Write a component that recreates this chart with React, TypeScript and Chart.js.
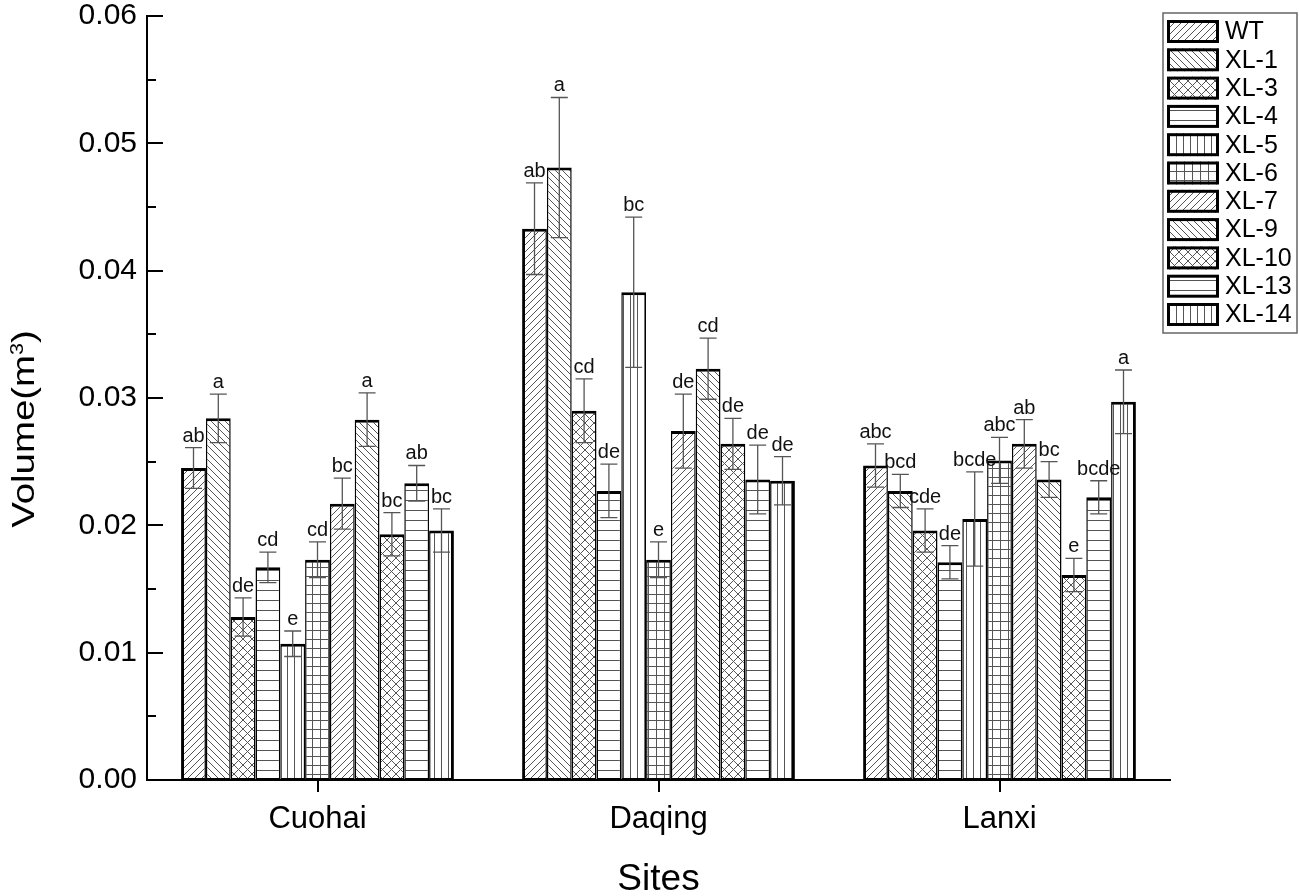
import React, { useEffect, useRef } from 'react';
import { Chart, registerables } from 'chart.js';

Chart.register(...registerables);

// ---------- data ----------
const categories = ['Cuohai', 'Daqing', 'Lanxi'];
const seriesNames = ['WT', 'XL-1', 'XL-3', 'XL-4', 'XL-5', 'XL-6', 'XL-7', 'XL-9', 'XL-10', 'XL-13', 'XL-14'];
const yTickLabels = ['0.00', '0.01', '0.02', '0.03', '0.04', '0.05', '0.06'];

const cuohaiMeans = [0.0245, 0.0284, 0.0128, 0.0167, 0.0107, 0.0173, 0.0217, 0.0283, 0.0193, 0.0233, 0.0196];
const daqingMeans = [0.0433, 0.0481, 0.0290, 0.0227, 0.0383, 0.0173, 0.0274, 0.0323, 0.0264, 0.0236, 0.0235];
const lanxiMeans = [0.0247, 0.0227, 0.0196, 0.0171, 0.0205, 0.0251, 0.0264, 0.0236, 0.0161, 0.0222, 0.0297];

const cuohaiErr = [0.0016, 0.0019, 0.0015, 0.0012, 0.0010, 0.0014, 0.0020, 0.0021, 0.0017, 0.0014, 0.0017];
const daqingErr = [0.0036, 0.0055, 0.0025, 0.0021, 0.0059, 0.0014, 0.0029, 0.0024, 0.0020, 0.0027, 0.0019];
const lanxiErr = [0.0017, 0.0013, 0.0017, 0.0013, 0.0037, 0.0018, 0.0019, 0.0014, 0.0013, 0.0013, 0.0025];

const cuohaiLetters = ['ab', 'a', 'de', 'cd', 'e', 'cd', 'bc', 'a', 'bc', 'ab', 'bc'];
const daqingLetters = ['ab', 'a', 'cd', 'de', 'bc', 'e', 'de', 'cd', 'de', 'de', 'de'];
const lanxiLetters = ['abc', 'bcd', 'cde', 'de', 'bcde', 'abc', 'ab', 'bc', 'e', 'bcde', 'a'];

const seriesPatterns = ['fwd', 'back', 'cross', 'horiz', 'vert', 'grid', 'fwd', 'back', 'cross', 'horiz', 'vert'];

// ---------- patterns ----------
function makePattern(kind: string): CanvasPattern | string {
  const c = document.createElement('canvas');
  let w = 7, h = 7;
  if (kind === 'cross') { w = 9; h = 9; }
  if (kind === 'horiz') { w = 10; h = 10; }
  if (kind === 'vert') { w = 7; h = 10; }
  if (kind === 'grid') { w = 8; h = 9; }
  c.width = w; c.height = h;
  const g = c.getContext('2d');
  if (!g) return '#fff';
  g.fillStyle = '#fff';
  g.fillRect(0, 0, w, h);
  g.strokeStyle = '#555';
  g.lineWidth = 1;
  g.beginPath();
  const fwd = () => {
    g.moveTo(0, h); g.lineTo(w, 0);
    g.moveTo(-1, 1); g.lineTo(1, -1);
    g.moveTo(w - 1, h + 1); g.lineTo(w + 1, h - 1);
  };
  const back = () => {
    g.moveTo(0, 0); g.lineTo(w, h);
    g.moveTo(w - 1, -1); g.lineTo(w + 1, 1);
    g.moveTo(-1, h - 1); g.lineTo(1, h + 1);
  };
  if (kind === 'fwd') fwd();
  if (kind === 'back') back();
  if (kind === 'cross') { fwd(); back(); }
  if (kind === 'horiz' || kind === 'grid') { g.moveTo(0, 0.5); g.lineTo(w, 0.5); }
  if (kind === 'vert' || kind === 'grid') { g.moveTo(0.5, 0); g.lineTo(0.5, h); }
  g.stroke();
  const p = g.createPattern(c, 'repeat');
  return p || '#fff';
}

// ---------- plugins ----------
const errorBarPlugin = {
  id: 'errorBarsLetters',
  afterDatasetsDraw(chart: any) {
    const ctx = chart.ctx;
    const yScale = chart.scales.y;
    ctx.save();
    chart.data.datasets.forEach((ds: any, i: number) => {
      const meta = chart.getDatasetMeta(i);
      meta.data.forEach((el: any, j: number) => {
        const v = ds.data[j];
        const e = ds.errors[j];
        const x = el.x;
        const yt = yScale.getPixelForValue(v + e);
        const yb = yScale.getPixelForValue(v - e);
        ctx.strokeStyle = '#555';
        ctx.lineWidth = 1.3;
        ctx.beginPath();
        ctx.moveTo(x, yt); ctx.lineTo(x, yb);
        ctx.moveTo(x - 8.5, yt); ctx.lineTo(x + 8.5, yt);
        ctx.moveTo(x - 8.5, yb); ctx.lineTo(x + 8.5, yb);
        ctx.stroke();
        ctx.fillStyle = '#111';
        ctx.font = '20px "Liberation Sans", Arial, sans-serif';
        ctx.textAlign = 'center';
        ctx.textBaseline = 'alphabetic';
        ctx.fillText(ds.letters[j], x, yt - 6);
      });
    });
    ctx.restore();
  },
};

const decorPlugin = {
  id: 'decor',
  afterDraw(chart: any) {
    const ctx = chart.ctx;
    const yScale = chart.scales.y;
    const area = chart.chartArea;
    ctx.save();
    // inward y ticks (major + minor)
    ctx.strokeStyle = '#000';
    ctx.lineWidth = 2;
    ctx.beginPath();
    for (let k = 0; k <= 12; k++) {
      const val = k * 0.005;
      const py = Math.round(yScale.getPixelForValue(val));
      const len = k % 2 === 0 ? 16 : 9;
      ctx.moveTo(area.left, py);
      ctx.lineTo(area.left + len, py);
    }
    ctx.stroke();

    // y axis title with superscript
    ctx.translate(22.5, 429);
    ctx.rotate(-Math.PI / 2);
    ctx.scale(1.2, 1);
    ctx.fillStyle = '#000';
    ctx.textBaseline = 'alphabetic';
    ctx.textAlign = 'left';
    const big = '32px "Liberation Sans", Arial, sans-serif';
    const small = '18px "Liberation Sans", Arial, sans-serif';
    ctx.font = big;
    const w1 = ctx.measureText('Volume(m').width;
    const w3 = ctx.measureText(')').width;
    ctx.font = small;
    const w2 = ctx.measureText('3').width;
    const total = w1 + w2 + w3;
    let x0 = -total / 2;
    const base = 0.358 * 32;
    ctx.font = big;
    ctx.fillText('Volume(m', x0, base);
    x0 += w1;
    ctx.font = small;
    ctx.fillText('3', x0, 0);
    x0 += w2;
    ctx.font = big;
    ctx.fillText(')', x0, base);
    ctx.restore();

    // legend
    ctx.save();
    ctx.strokeStyle = '#666';
    ctx.lineWidth = 1.5;
    ctx.strokeRect(1163, 13, 134, 320);
    chart.data.datasets.forEach((ds: any, i: number) => {
      const top = 20 + i * 28.3;
      ctx.fillStyle = ds.backgroundColor;
      ctx.fillRect(1167, top, 52, 23);
      ctx.strokeStyle = '#000';
      ctx.lineWidth = 3;
      ctx.strokeRect(1168.5, top + 1.5, 49, 20);
      ctx.fillStyle = '#000';
      ctx.font = '25px "Liberation Sans", Arial, sans-serif';
      ctx.textAlign = 'left';
      ctx.textBaseline = 'middle';
      ctx.fillText(ds.label, 1225, top + 12.5);
    });
    ctx.restore();
  },
};

export default function App() {
  const ref = useRef<HTMLCanvasElement | null>(null);

  useEffect(() => {
    document.body.style.margin = '0';
    const canvas = ref.current;
    if (!canvas) return;
    Chart.defaults.font.family = '"Liberation Sans", Arial, sans-serif';

    const meansBySite = [cuohaiMeans, daqingMeans, lanxiMeans];
    const errBySite = [cuohaiErr, daqingErr, lanxiErr];
    const lettersBySite = [cuohaiLetters, daqingLetters, lanxiLetters];

    const datasets = seriesNames.map((name, i) => ({
      label: name,
      data: meansBySite.map((m) => m[i]),
      errors: errBySite.map((m) => m[i]),
      letters: lettersBySite.map((m) => m[i]),
      backgroundColor: makePattern(seriesPatterns[i]),
      borderColor: '#000',
      borderWidth: { top: 3, bottom: 2, left: i === 0 ? 3 : 1.5, right: i === seriesNames.length - 1 ? 3 : 1.5 },
      borderSkipped: false,
      barPercentage: 1.0,
      categoryPercentage: 0.8,
    }));

    const chart = new Chart(canvas, {
      type: 'bar',
      data: { labels: categories, datasets: datasets as any },
      options: {
        animation: false,
        responsive: false,
        devicePixelRatio: 1,
        layout: { padding: { top: 16, right: 129, bottom: 0, left: 0 } },
        plugins: {
          legend: { display: false },
          tooltip: { enabled: false },
        },
        scales: {
          x: {
            type: 'category',
            grid: { display: true, drawOnChartArea: false, drawTicks: true, tickLength: 12, offset: false, color: '#000', lineWidth: 2 },
            border: { display: true, color: '#000', width: 2 },
            ticks: { font: { size: 31 }, color: '#000', padding: 9 },
            title: { display: true, text: 'Sites', font: { size: 37, lineHeight: 0.86 }, color: '#000', padding: 0 },
            afterFit: (s: any) => { s.height = 116; },
          },
          y: {
            min: 0,
            max: 0.06,
            ticks: {
              stepSize: 0.01,
              callback: (_v: any, idx: number) => yTickLabels[idx],
              font: { size: 30, lineHeight: 0.4 },
              color: '#000',
              padding: 10,
            },
            grid: { display: false, drawTicks: false },
            border: { display: true, color: '#000', width: 2 },
            afterFit: (s: any) => { s.width = 147; },
          },
        },
      } as any,
      plugins: [errorBarPlugin, decorPlugin],
    });
    return () => chart.destroy();
  }, []);

  return (
    <div style={{ width: 1299, height: 896, background: '#fff' }}>
      <canvas ref={ref} width={1299} height={896} style={{ display: 'block', width: 1299, height: 896 }} />
    </div>
  );
}
